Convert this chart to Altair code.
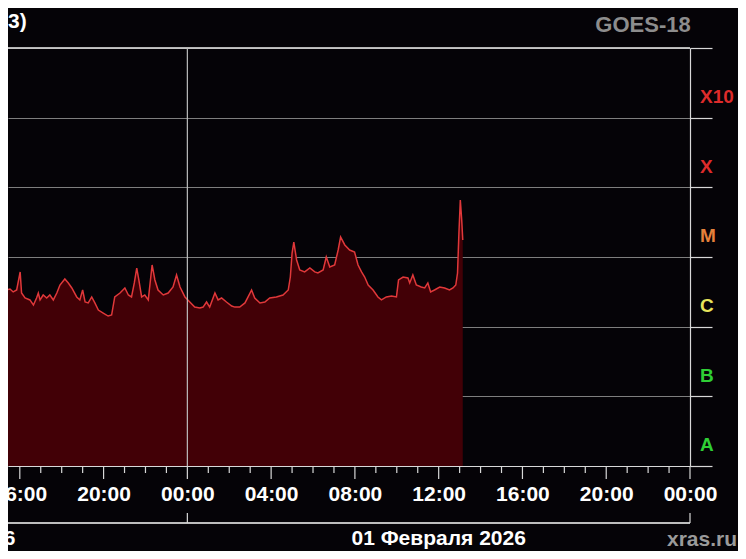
import altair as alt
import pandas as pd

# ---- data (GOES-18 X-ray flux, W/m^2) ----
times = [
    "2026-01-31T15:03", "2026-01-31T15:22", "2026-01-31T15:32", "2026-01-31T15:41", "2026-01-31T15:51",
    "2026-01-31T16:01", "2026-01-31T16:05", "2026-01-31T16:15", "2026-01-31T16:29", "2026-01-31T16:39",
    "2026-01-31T16:48", "2026-01-31T16:53", "2026-01-31T16:58", "2026-01-31T17:07", "2026-01-31T17:17",
    "2026-01-31T17:26", "2026-01-31T17:36", "2026-01-31T17:46", "2026-01-31T17:55", "2026-01-31T18:09",
    "2026-01-31T18:19", "2026-01-31T18:29", "2026-01-31T18:43", "2026-01-31T18:52", "2026-01-31T19:00",
    "2026-01-31T19:07", "2026-01-31T19:16", "2026-01-31T19:26", "2026-01-31T19:35", "2026-01-31T19:45",
    "2026-01-31T19:59", "2026-01-31T20:13", "2026-01-31T20:23", "2026-01-31T20:32", "2026-01-31T20:47",
    "2026-01-31T21:01", "2026-01-31T21:11", "2026-01-31T21:20", "2026-01-31T21:28", "2026-01-31T21:35",
    "2026-01-31T21:41", "2026-01-31T21:49", "2026-01-31T21:58", "2026-01-31T22:08", "2026-01-31T22:19",
    "2026-01-31T22:27", "2026-01-31T22:36", "2026-01-31T22:51", "2026-01-31T23:05", "2026-01-31T23:19",
    "2026-01-31T23:29", "2026-01-31T23:39", "2026-01-31T23:53",
    "2026-02-01T00:07", "2026-02-01T00:21", "2026-02-01T00:36", "2026-02-01T00:45", "2026-02-01T00:55",
    "2026-02-01T01:04", "2026-02-01T01:19", "2026-02-01T01:28", "2026-02-01T01:38", "2026-02-01T01:52",
    "2026-02-01T02:07", "2026-02-01T02:16", "2026-02-01T02:30", "2026-02-01T02:45", "2026-02-01T02:54",
    "2026-02-01T03:04", "2026-02-01T03:13", "2026-02-01T03:28", "2026-02-01T03:42", "2026-02-01T03:56",
    "2026-02-01T04:15", "2026-02-01T04:34", "2026-02-01T04:49", "2026-02-01T04:55", "2026-02-01T05:00",
    "2026-02-01T05:05", "2026-02-01T05:13", "2026-02-01T05:22", "2026-02-01T05:36", "2026-02-01T05:51",
    "2026-02-01T06:05", "2026-02-01T06:14", "2026-02-01T06:29", "2026-02-01T06:38", "2026-02-01T06:48",
    "2026-02-01T07:02", "2026-02-01T07:12", "2026-02-01T07:19", "2026-02-01T07:31", "2026-02-01T07:45",
    "2026-02-01T07:59", "2026-02-01T08:09", "2026-02-01T08:19", "2026-02-01T08:28", "2026-02-01T08:38",
    "2026-02-01T08:52", "2026-02-01T09:06", "2026-02-01T09:16", "2026-02-01T09:30", "2026-02-01T09:45",
    "2026-02-01T09:59", "2026-02-01T10:05", "2026-02-01T10:18", "2026-02-01T10:32", "2026-02-01T10:37",
    "2026-02-01T10:46", "2026-02-01T10:56", "2026-02-01T11:10", "2026-02-01T11:20", "2026-02-01T11:29",
    "2026-02-01T11:37", "2026-02-01T11:48", "2026-02-01T12:03", "2026-02-01T12:17", "2026-02-01T12:31",
    "2026-02-01T12:41", "2026-02-01T12:49", "2026-02-01T12:54", "2026-02-01T12:58", "2026-02-01T13:02",
    "2026-02-01T13:06", "2026-02-01T13:09",
]
flux = [
    1.85e-6, 3.36e-6, 3.47e-6, 3.15e-6, 3.36e-6,
    6.1e-6, 3.04e-6, 2.58e-6, 2.42e-6, 2.05e-6,
    2.58e-6, 3.04e-6, 2.42e-6, 2.85e-6, 2.58e-6,
    2.85e-6, 2.42e-6, 3.04e-6, 3.96e-6, 4.83e-6,
    4.24e-6, 3.59e-6, 2.67e-6, 2.42e-6, 3.36e-6,
    2.26e-6, 2.19e-6, 2.67e-6, 2.19e-6, 1.73e-6,
    1.57e-6, 1.42e-6, 1.47e-6, 2.67e-6, 3.04e-6,
    3.59e-6, 2.85e-6, 2.67e-6, 4.24e-6, 6.95e-6,
    4.68e-6, 2.67e-6, 2.85e-6, 2.42e-6, 7.68e-6,
    4.68e-6, 3.36e-6, 2.85e-6, 3.04e-6, 3.71e-6,
    5.52e-6, 3.71e-6, 2.67e-6,
    2.26e-6, 1.91e-6, 1.85e-6, 1.91e-6, 2.26e-6,
    1.91e-6, 3.04e-6, 2.42e-6, 2.58e-6, 2.26e-6,
    1.98e-6, 1.91e-6, 1.91e-6, 2.19e-6, 2.67e-6,
    3.36e-6, 2.58e-6, 2.19e-6, 2.26e-6, 2.58e-6,
    2.67e-6, 2.85e-6, 3.36e-6, 5.16e-6, 1.14e-5,
    1.64e-5, 9.06e-6, 6.52e-6, 6.1e-6, 6.95e-6,
    6.1e-6, 5.89e-6, 6.52e-6, 1.0e-5, 7.19e-6,
    7.68e-6, 1.26e-5, 1.94e-5, 1.49e-5, 1.26e-5,
    1.18e-5, 7.68e-6, 6.1e-6, 5.16e-6, 3.96e-6,
    3.36e-6, 2.67e-6, 2.42e-6, 2.67e-6, 2.75e-6,
    2.67e-6, 4.68e-6, 5.16e-6, 5.0e-6, 4.24e-6,
    5.52e-6, 3.96e-6, 3.71e-6, 3.59e-6, 4.24e-6,
    3.15e-6, 3.36e-6, 3.71e-6, 3.59e-6, 3.36e-6,
    3.59e-6, 3.96e-6, 5.89e-6, 2.21e-5, 6.58e-5,
    3.40e-5, 1.75e-5,
]

band_names = ["A", "B", "C", "M", "X", "X10"]
band_mids = [3.16e-8, 3.16e-7, 3.16e-6, 3.16e-5, 3.16e-4, 3.16e-3]
band_colors = ["#2fcf35", "#2fcf35", "#e8e45c", "#e5813b", "#dd2b2b", "#dd2b2b"]
decades = [1e-8, 1e-7, 1e-6, 1e-5, 1e-4, 1e-3, 1e-2]

day_labels = ["31 Января 2026", "01 Февраля 2026"]
day_centers = ["2026-01-31T12:00", "2026-02-01T12:00"]
day_bounds = ["2026-01-31T00:00", "2026-02-01T00:00", "2026-02-02T00:00"]

FONT = "Liberation Sans"

df = pd.DataFrame({"time": times, "flux": flux})
bands = pd.DataFrame({"name": band_names, "mid": band_mids, "color": band_colors})
days = pd.DataFrame({"label": day_labels, "center": day_centers})
bounds = pd.DataFrame({"t": day_bounds})
hours = pd.DataFrame({"t": pd.date_range("2026-01-31 15:00", "2026-02-02 00:00", freq="1h").strftime("%Y-%m-%dT%H:%M")})
hours["major"] = [int(s[11:13]) % 4 == 0 for s in hours["t"]]

x_start = alt.DateTime(year=2026, month=1, date=31, hours=15, minutes=26, seconds=10)
x_end = alt.DateTime(year=2026, month=2, date=2, hours=0)
label_vals = [alt.DateTime(year=2026, month=1, date=31, hours=h) for h in (16, 20)] + \
             [alt.DateTime(year=2026, month=2, date=1, hours=h) for h in (0, 4, 8, 12, 16, 20)] + \
             [alt.DateTime(year=2026, month=2, date=2, hours=0)]

xscale = alt.Scale(domain=[x_start, x_end])
yscale = alt.Scale(type="log", domain=[1e-8, 1e-2], nice=False)

x_enc = alt.X("time:T", scale=xscale, axis=alt.Axis(
    values=label_vals, format="%H:%M", title=None, grid=False, ticks=False,
    domain=True, domainColor="#d8d8d8", domainWidth=1.2,
    labelFont=FONT, labelFontSize=21, labelFontWeight="bold", labelColor="#ffffff",
    labelPadding=34, labelBaseline="alphabetic", labelFlush=False, labelOverlap=False))
y_enc = alt.Y("flux:Q", scale=yscale, axis=alt.Axis(
    orient="right", values=decades, labels=False, title=None,
    tickSize=22, tickColor="#d8d8d8", tickWidth=1.2,
    domainColor="#d8d8d8", domainWidth=1.2,
    grid=True, gridColor="#7e7e7e", gridWidth=1))

area = alt.Chart(df).mark_area(color="#420006", clip=True).encode(
    x=x_enc, y=y_enc, y2=alt.datum(1e-8))
line = alt.Chart(df).mark_line(color="#e0383a", strokeWidth=1.5, clip=True).encode(
    x="time:T", y="flux:Q")

top_rule = alt.Chart(bounds).mark_rule(color="#d0d0d0", strokeWidth=1.2).encode(
    x=alt.datum(x_start), x2=alt.datum(x_end), y=alt.datum(1e-2))
day_grid = alt.Chart(bounds.iloc[[1]]).mark_rule(color="#bdbdbd", strokeWidth=1.2).encode(
    x="t:T", y=alt.datum(1e-2), y2=alt.datum(1e-8))

minor_ticks = alt.Chart(hours[~hours["major"]]).mark_rule(color="#d8d8d8", strokeWidth=1.2).encode(
    x="t:T", y=alt.value(418), y2=alt.value(425))
major_ticks = alt.Chart(hours[hours["major"]]).mark_rule(color="#d8d8d8", strokeWidth=1.2).encode(
    x="t:T", y=alt.value(418), y2=alt.value(431))

date_line = alt.Chart(bounds).mark_rule(color="#d8d8d8", strokeWidth=1.2).encode(
    x=alt.datum(alt.DateTime(year=2026, month=1, date=31, hours=0)), x2=alt.datum(x_end),
    y=alt.value(475))
date_ticks = alt.Chart(bounds).mark_rule(color="#d8d8d8", strokeWidth=1.2).encode(
    x="t:T", y=alt.value(465), y2=alt.value(475))
date_text = alt.Chart(days).mark_text(
    font=FONT, fontSize=21, fontWeight="bold", color="#ffffff", baseline="alphabetic", align="center").encode(
    x="center:T", y=alt.value(497), text="label:N")

band_text = alt.Chart(bands).mark_text(
    font=FONT, fontSize=19, fontWeight="bold", align="left", baseline="middle", dy=14).encode(
    x=alt.value(692), y=alt.Y("mid:Q"), text="name:N", color=alt.Color("color:N", scale=None))

goes = alt.Chart(bands.iloc[[0]]).mark_text(
    text="GOES-18", font=FONT, fontSize=22, fontWeight="bold", color="#8d8d8d",
    align="center", baseline="alphabetic").encode(x=alt.value(635), y=alt.value(-16))
site = alt.Chart(bands.iloc[[0]]).mark_text(
    text="xras.ru", font=FONT, fontSize=21, fontWeight="bold", color="#9a9a9a",
    align="center", baseline="alphabetic").encode(x=alt.value(694), y=alt.value(498))
title_tail = alt.Chart(bands.iloc[[0]]).mark_text(
    text="3)", font=FONT, fontSize=21, fontWeight="bold", color="#ffffff",
    align="left", baseline="alphabetic").encode(x=alt.value(0), y=alt.value(-20))

chart = alt.layer(
    area, line, top_rule, day_grid, minor_ticks, major_ticks,
    date_line, date_ticks, date_text, band_text, goes, site, title_tail
).properties(
    width=682, height=418,
    autosize=alt.AutoSizeParams(type="none"),
    padding={"left": 0, "top": 40, "right": 48, "bottom": 85},
    background="#050307",
).configure_view(strokeWidth=0)

chart.save("out.html", embed_options={"renderer": "svg", "actions": False})
